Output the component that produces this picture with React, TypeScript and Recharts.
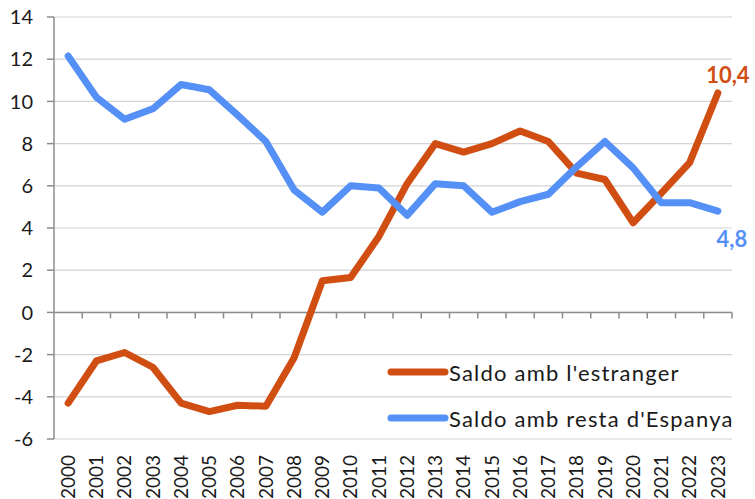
import React from 'react'
import {
  LineChart,
  Line,
  XAxis,
  YAxis,
  CartesianGrid,
  ReferenceLine,
  Legend,
  LabelList,
} from 'recharts'

const years = [
  '2000', '2001', '2002', '2003', '2004', '2005', '2006', '2007',
  '2008', '2009', '2010', '2011', '2012', '2013', '2014', '2015',
  '2016', '2017', '2018', '2019', '2020', '2021', '2022', '2023',
]

// Saldo amb l'estranger
const estranger = [
  -4.3, -2.3, -1.9, -2.6, -4.3, -4.7, -4.4, -4.45,
  -2.15, 1.5, 1.65, 3.6, 6.1, 8.0, 7.6, 8.0,
  8.6, 8.1, 6.6, 6.3, 4.25, 5.65, 7.1, 10.4,
]

// Saldo amb resta d'Espanya
const restaEspanya = [
  12.15, 10.2, 9.15, 9.65, 10.8, 10.55, 9.35, 8.1,
  5.8, 4.75, 6.0, 5.9, 4.6, 6.1, 6.0, 4.75,
  5.25, 5.6, 6.9, 8.1, 6.85, 5.2, 5.2, 4.8,
]

const yTicks = [-6, -4, -2, 0, 2, 4, 6, 8, 10, 12, 14]

const ORANGE = '#d14e13'
const BLUE = '#5590f7'
const FONT = 'Lato, "Open Sans", sans-serif'

const data = years.map((year, i) => ({
  year,
  estranger: estranger[i],
  resta: restaEspanya[i],
}))

const YearTick = (props: any) => {
  const { x, y, payload } = props
  return (
    <g transform={`translate(${x},${y})`}>
      <text
        transform="rotate(-90)"
        textAnchor="end"
        dy="0.36em"
        fontSize={19}
        fill="#1a1a1a"
        fontFamily={FONT}
      >
        {payload.value}
      </text>
    </g>
  )
}

// zero line with tick marks at category boundaries
const ZeroAxis = (props: any) => {
  const { x1, y1, x2 } = props
  const step = (x2 - x1) / years.length
  return (
    <g>
      <line x1={x1} y1={y1} x2={x2} y2={y1} stroke="#8c8c8c" strokeWidth={1.5} />
      {years.map((_, k) => (
        <line
          key={k}
          x1={x1 + (k + 1) * step}
          x2={x1 + (k + 1) * step}
          y1={y1}
          y2={y1 + 6}
          stroke="#8c8c8c"
          strokeWidth={1.5}
        />
      ))}
    </g>
  )
}

const lastLabel = (color: string, dx: number, dy: number) => (props: any) => {
  const { x, y, value, index } = props
  if (index !== years.length - 1) return null
  return (
    <text
      x={x + dx}
      y={y + dy}
      fill={color}
      fontSize={22}
      fontWeight={700}
      textAnchor="middle"
      fontFamily={FONT}
    >
      {String(value).replace('.', ',')}
    </text>
  )
}

const LegendContent = () => {
  const items = [
    { name: "Saldo amb l'estranger", color: ORANGE },
    { name: "Saldo amb resta d'Espanya", color: BLUE },
  ]
  return (
    <div style={{ fontFamily: FONT }}>
      {items.map((it) => (
        <div
          key={it.name}
          style={{ display: 'flex', alignItems: 'center', height: 46 }}
        >
          <svg width={62} height={12}>
            <line
              x1={4}
              y1={6}
              x2={58}
              y2={6}
              stroke={it.color}
              strokeWidth={7}
              strokeLinecap="round"
            />
          </svg>
          <span
            style={{
              fontSize: 22,
              color: '#1a1a1a',
              whiteSpace: 'nowrap',
              letterSpacing: 1.2,
            }}
          >
            {it.name}
          </span>
        </div>
      ))}
    </div>
  )
}

export default function App() {
  return (
    <div style={{ position: 'absolute', left: 0, top: 0 }}>
      <LineChart
        width={755}
        height={499}
        data={data}
        margin={{ top: 17, right: 23, bottom: 0, left: 0 }}
      >
        <CartesianGrid vertical={false} stroke="#d3d3d3" strokeWidth={1.2} />
        <XAxis
          dataKey="year"
          scale="band"
          axisLine={false}
          tickLine={false}
          height={60}
          interval={0}
          tick={<YearTick />}
          tickMargin={10}
        />
        <YAxis
          domain={[-6, 14]}
          ticks={yTicks}
          width={54}
          axisLine={{ stroke: '#8c8c8c', strokeWidth: 1.5 }}
          tickLine={{ stroke: '#8c8c8c', strokeWidth: 1.5 }}
          tickSize={7}
          tickMargin={14}
          tick={{ fontSize: 20, fill: '#1a1a1a', fontFamily: FONT }}
        />
        <ReferenceLine y={0} shape={<ZeroAxis />} />
        <Legend
          layout="horizontal"
          verticalAlign="middle"
          align="center"
          content={<LegendContent />}
          wrapperStyle={{ left: 387, top: 349, width: 368 }}
        />
        <Line
          dataKey="estranger"
          stroke={ORANGE}
          strokeWidth={7}
          strokeLinejoin="round"
          strokeLinecap="round"
          dot={false}
          isAnimationActive={false}
        >
          <LabelList dataKey="estranger" content={lastLabel(ORANGE, 10, -10)} />
        </Line>
        <Line
          dataKey="resta"
          stroke={BLUE}
          strokeWidth={7}
          strokeLinejoin="round"
          strokeLinecap="round"
          dot={false}
          isAnimationActive={false}
        >
          <LabelList dataKey="resta" content={lastLabel(BLUE, 14, 36)} />
        </Line>
      </LineChart>
    </div>
  )
}
